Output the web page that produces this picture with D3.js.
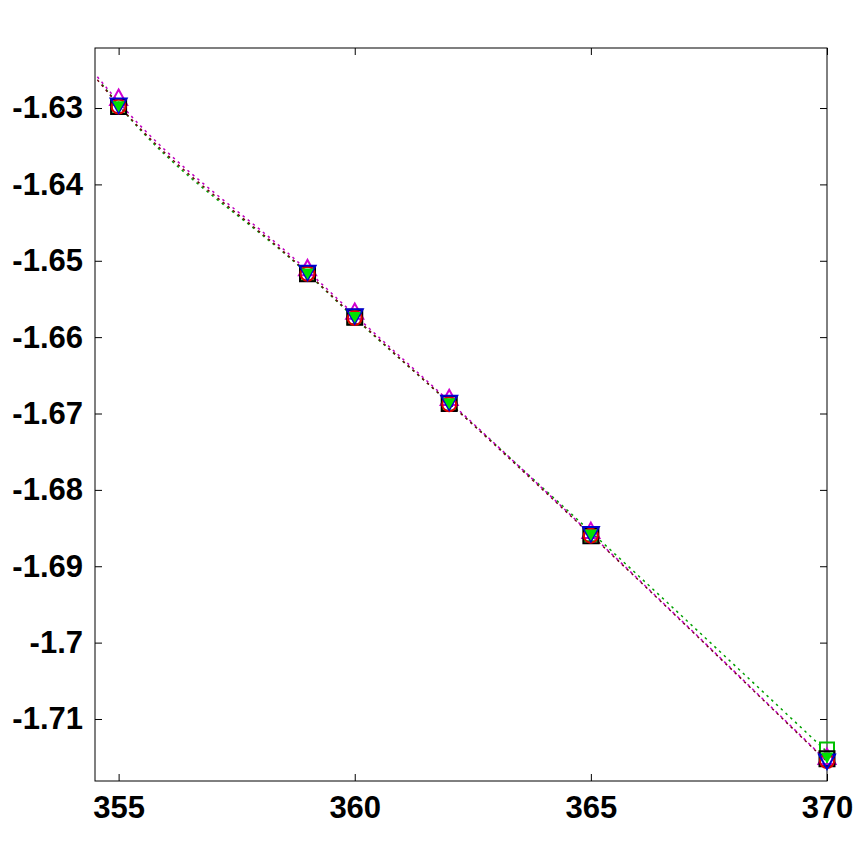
<!DOCTYPE html>
<html>
<head>
<meta charset="utf-8">
<script src="https://cdn.jsdelivr.net/npm/d3@7/dist/d3.min.js"></script>
<style>
  body { margin: 0; background: #fff; }
  svg text { font-family: "Liberation Sans", Arial, sans-serif; font-weight: bold; font-size: 31px; fill: #000; }
</style>
</head>
<body>
<svg id="chart"></svg>
<script>
// measured points
const xValues = [355, 359, 360, 362, 365, 370];
const greenSquare = [-1.6298, -1.6517, -1.6574, -1.6687, -1.6858, -1.7140];
const magentaUp = [-1.6287, -1.6510, -1.6567, -1.6680, -1.6854, -1.7150];
const blackSquare = [-1.6298, -1.6517, -1.6574, -1.6687, -1.6860, -1.7152];
const redCircle = [-1.6298, -1.6517, -1.6575, -1.6688, -1.6860, -1.7155];
const blueDown = [-1.6296, -1.6515, -1.6572, -1.6685, -1.6857, -1.7155];
const greenDown = [-1.6297, -1.6516, -1.6573, -1.6686, -1.6858, -1.7150];

// dotted fit curves
const lineX = [354.55, 355, 359, 360, 362, 365, 370];
const greenX = [354.65, 355, 359, 360, 362, 365, 370];
const magentaLine = [-1.6259, -1.6292, -1.6513, -1.6571, -1.6684, -1.6858, -1.7155];
const redLine = [-1.6263, -1.6296, -1.6516, -1.6574, -1.6686, -1.6859, -1.7156];
const greenLine = [-1.6269, -1.6296, -1.6517, -1.6575, -1.6686, -1.6855, -1.7143];

const xTicks = [355, 360, 365, 370];
const yTicks = [-1.63, -1.64, -1.65, -1.66, -1.67, -1.68, -1.69, -1.7, -1.71];

const W = 860, H = 860;
const box = { left: 95, top: 48, right: 827, bottom: 781 };

const svg = d3.select('#chart').attr('width', W).attr('height', H);

const x = d3.scaleLinear().domain([354.5, 370]).range([box.left, box.right]);
const y = d3.scaleLinear().domain([-1.71812, -1.62214]).range([box.bottom, box.top]);

// axes, MATLAB style: ticks inward on all four sides
const tickLen = 7;
svg.append('g')
    .attr('transform', `translate(0, ${box.bottom})`)
    .call(d3.axisBottom(x).tickValues(xTicks).tickSizeInner(-tickLen).tickSizeOuter(0).tickFormat(d3.format('d')))
    .call(g => g.select('.domain').remove())
    .call(g => g.selectAll('text').attr('dy', '0.71em').attr('y', 15));
svg.append('g')
    .attr('transform', `translate(0, ${box.top})`)
    .call(d3.axisTop(x).tickValues(xTicks).tickSizeInner(-tickLen).tickSizeOuter(0).tickFormat(''))
    .call(g => g.select('.domain').remove());
svg.append('g')
    .attr('transform', `translate(${box.left}, 0)`)
    .call(d3.axisLeft(y).tickValues(yTicks).tickSizeInner(-tickLen).tickSizeOuter(0).tickFormat(d => String(d)))
    .call(g => g.select('.domain').remove())
    .call(g => g.selectAll('text').attr('x', -12));
svg.append('g')
    .attr('transform', `translate(${box.right}, 0)`)
    .call(d3.axisRight(y).tickValues(yTicks).tickSizeInner(-tickLen).tickSizeOuter(0).tickFormat(''))
    .call(g => g.select('.domain').remove());
svg.selectAll('.tick line').attr('stroke', '#000');
svg.selectAll('.tick text').style('font-size', '31px').style('font-family', '"Liberation Sans", Arial, sans-serif').style('font-weight', 'bold');

svg.append('rect')
    .attr('x', box.left).attr('y', box.top)
    .attr('width', box.right - box.left).attr('height', box.bottom - box.top)
    .attr('fill', 'none').attr('stroke', '#000').attr('stroke-width', 1);

const plot = svg.append('g');

const line = d3.line().x(d => x(d[0])).y(d => y(d[1])).curve(d3.curveMonotoneX);
const curves = [
    { xs: greenX, ys: greenLine, color: '#00a000' },
    { xs: lineX, ys: redLine, color: '#700010' },
    { xs: lineX, ys: magentaLine, color: '#c000c0' }
];
curves.forEach(c => {
    plot.append('path')
        .datum(d3.zip(c.xs, c.ys))
        .attr('d', line)
        .attr('fill', 'none')
        .attr('stroke', c.color)
        .attr('stroke-width', 1.5)
        .attr('stroke-dasharray', '2.5,4');
});

function shape(kind, s) {
    const h = s / 2;
    if (kind === 'square') return `M${-h},${-h}H${h}V${h}H${-h}Z`;
    if (kind === 'up') return `M0,${-h}L${h},${h * 0.8}L${-h},${h * 0.8}Z`;
    if (kind === 'down') return `M${-h},${-h * 0.8}L${h},${-h * 0.8}L0,${h}Z`;
    return null;
}

const markerSeries = [
    { ys: greenSquare, kind: 'square', size: 14, stroke: '#00c000', fill: 'none' },
    { ys: magentaUp, kind: 'up', size: 17, stroke: '#d000d0', fill: 'none' },
    { ys: blackSquare, kind: 'square', size: 15, stroke: '#000', fill: 'none' },
    { ys: redCircle, kind: 'circle', size: 14, stroke: '#e00000', fill: 'none' },
    { ys: blueDown, kind: 'down', size: 16, stroke: '#0000d0', fill: 'none' },
    { ys: greenDown, kind: 'down', size: 9, stroke: '#00e000', fill: '#00e000' }
];

markerSeries.forEach(m => {
    const pts = d3.zip(xValues, m.ys);
    const sel = plot.append('g').selectAll('.m').data(pts).enter();
    if (m.kind === 'circle') {
        sel.append('circle')
            .attr('cx', d => x(d[0])).attr('cy', d => y(d[1]))
            .attr('r', m.size / 2)
            .attr('fill', m.fill).attr('stroke', m.stroke).attr('stroke-width', 2);
    } else {
        sel.append('path')
            .attr('transform', d => `translate(${x(d[0])}, ${y(d[1])})`)
            .attr('d', shape(m.kind, m.size))
            .attr('fill', m.fill).attr('stroke', m.stroke).attr('stroke-width', 2);
    }
});
</script>
</body>
</html>
